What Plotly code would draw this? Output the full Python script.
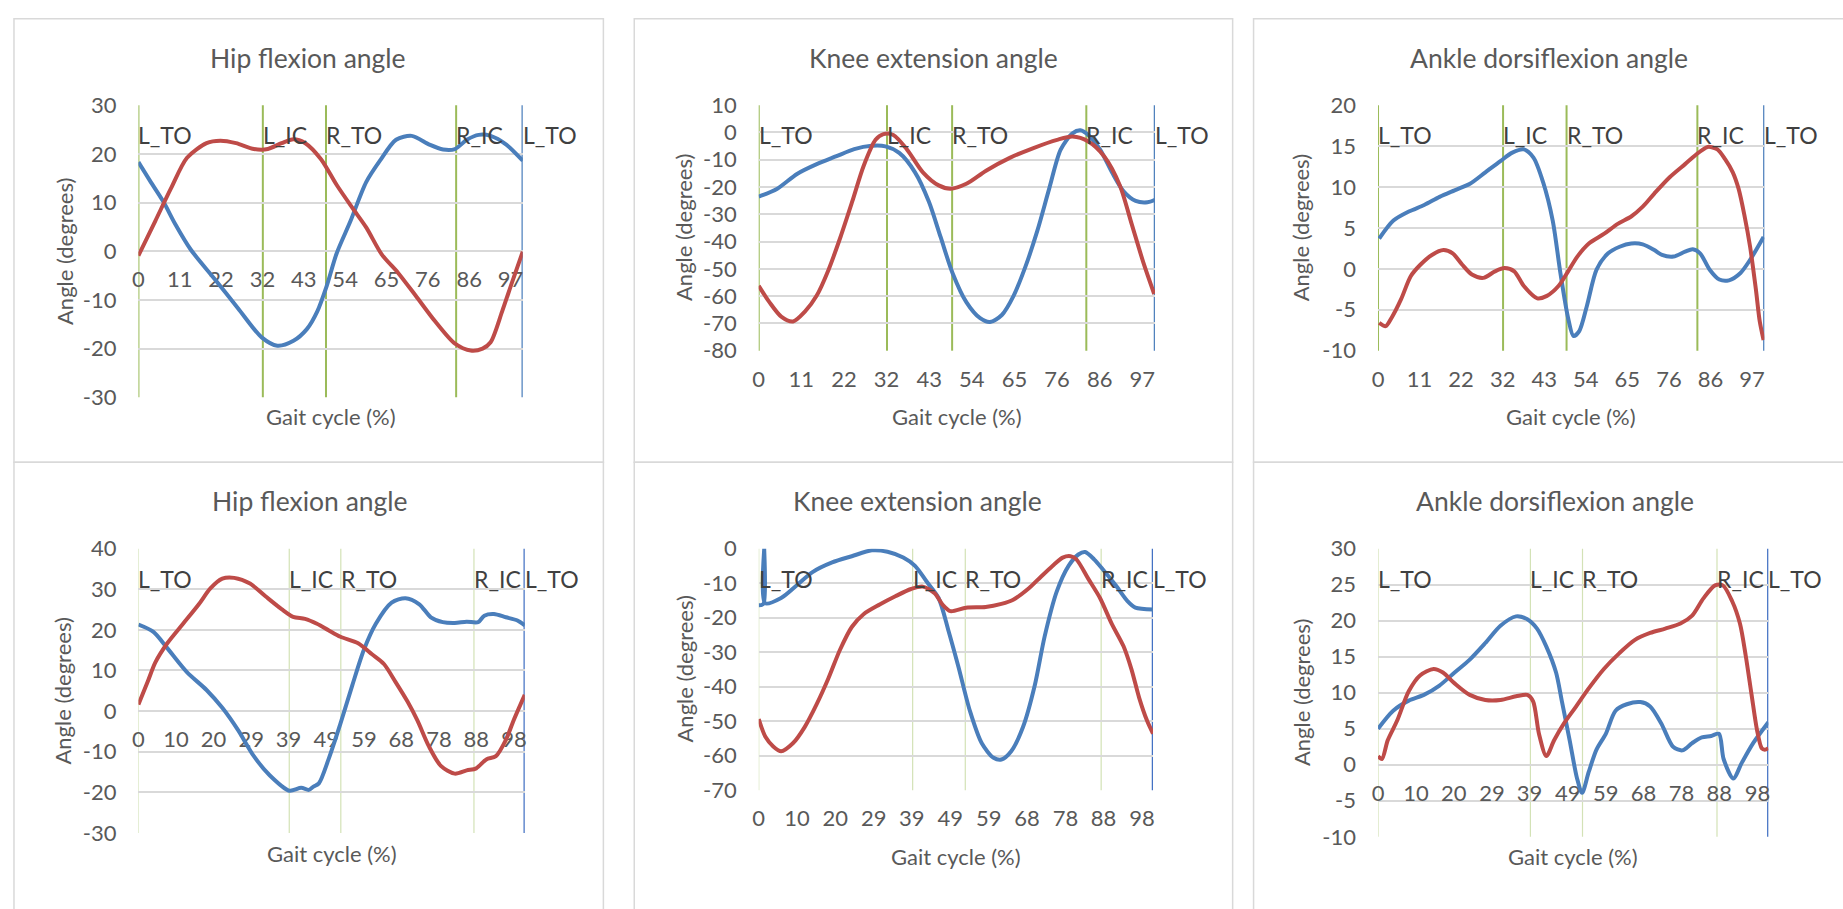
import plotly.graph_objects as go

W, H = 1843, 909

# ---------------- data ----------------
top_tick_pos = [0, 10.8, 21.6, 32.4, 43.2, 54.0, 64.8, 75.6, 86.4, 97.2]
top_tick_text = ["0", "11", "22", "32", "43", "54", "65", "76", "86", "97"]
bot_tick_pos = [0, 9.76, 19.5, 29.3, 39.0, 48.8, 58.6, 68.3, 78.1, 87.8, 97.6]
bot_tick_text = ["0", "10", "20", "29", "39", "49", "59", "68", "78", "88", "98"]

event_names = ["L_TO", "L_IC", "R_TO", "R_IC", "L_TO"]
top_events = [0, 32.5, 49.0, 83.0, 100.4]
bot_events = [0, 39.2, 52.6, 87.2, 100.4]

# hip flexion, first trial
hip_a_blue_x = [0, 3, 6.5, 9.6, 13.7, 19.9, 26.0, 32.2, 36.3, 40.5, 44.0, 46.7, 49.2, 51.8, 55.4, 59.5,
                63.1, 67.3, 71.4, 76.0, 79.6, 82.7, 85.8, 88.9, 92.0, 96.1, 100.4]
hip_a_blue_y = [18.3, 14.5, 10.2, 5.6, 0.3, -5.7, -11.7, -17.7, -19.4, -18.4, -16.0, -12.4, -7.1, -0.4, 6.2,
                14.2, 18.6, 22.9, 23.7, 21.9, 20.9, 21.0, 22.9, 23.9, 23.7, 21.9, 18.6]
hip_a_red_x = [0, 4.4, 8.5, 12.7, 17.8, 21.4, 25.5, 30.2, 33.8, 37.4, 40.5, 43.6, 47.7, 51.8, 55.9, 59.5,
               63.6, 67.8, 72.4, 77.5, 82.7, 86.8, 89.9, 92.0, 95.0, 97.6, 100.4]
hip_a_red_y = [-0.9, 6.2, 12.9, 19.2, 22.2, 22.7, 22.2, 21.0, 21.0, 22.2, 23.0, 22.2, 18.9, 13.6, 8.9, 4.9,
               -0.7, -4.4, -9.1, -14.4, -19.0, -20.4, -20.0, -18.7, -12.4, -6.4, -0.1]

# knee extension, first trial
knee_a_blue_x = [0, 4.7, 9.7, 14.7, 19.7, 24.2, 28.6, 32.1, 35.6, 39.6, 43.1, 46.1, 49.1, 52.6, 56.1, 58.6,
                 61.6, 64.6, 67.6, 70.6, 73.6, 76.5, 79.5, 81.5, 83.5, 86.5, 89.5, 92.5, 95.5, 98.5, 100.4]
knee_a_blue_y = [-23.5, -20.6, -15.2, -11.6, -8.7, -6.1, -4.9, -5.1, -7.5, -14.6, -25.3, -38.4, -51.5, -62.2,
                 -68.1, -69.5, -66.9, -59.8, -49.1, -36.0, -20.6, -6.3, -0.3, 0.8, -0.9, -6.3, -14.6, -21.7,
                 -25.1, -25.6, -24.7]
knee_a_red_x = [0, 2.7, 5.7, 8.7, 11.7, 14.7, 17.7, 20.7, 23.7, 26.6, 29.6, 31.6, 34.1, 37.6, 41.6, 45.6,
                48.6, 52.6, 57.6, 63.6, 69.6, 75.6, 79.5, 83.5, 87.5, 91.5, 94.5, 97.5, 100.2]
knee_a_red_y = [-56.2, -62.2, -67.5, -69.3, -65.7, -59.8, -50.3, -38.4, -25.3, -12.2, -2.7, -0.6, -0.9, -6.3,
                -14.6, -19.4, -20.6, -18.8, -14.0, -9.3, -5.7, -2.7, -1.5, -3.3, -8.7, -19.4, -33.6, -47.9,
                -59.2]

# ankle dorsiflexion, first trial
ankle_a_blue_x = [0.3, 4, 8, 12, 16, 19.9, 23.9, 27.9, 31.9, 34.9, 37.9, 40.4, 42.9, 45.4, 47.4, 49.4, 50.8,
                  52.3, 54.3, 56.8, 59.8, 62.8, 65.8, 68.8, 71.8, 73.8, 76.8, 79.8, 81.8, 83.7, 86.2, 88.7,
                  91.2, 94.2, 96.7, 100.2]
ankle_a_blue_y = [3.7, 5.9, 7.0, 7.8, 8.8, 9.6, 10.4, 11.8, 13.2, 14.2, 14.6, 13.6, 10.6, 5.9, -0.5, -6.0,
                  -8.2, -7.6, -4.5, -0.1, 1.9, 2.7, 3.1, 3.0, 2.3, 1.7, 1.5, 2.1, 2.4, 1.9, -0.1, -1.3, -1.4,
                  -0.5, 1.1, 3.9]
ankle_a_red_x = [0.3, 2, 3.5, 6, 8.5, 11, 14, 17, 19.4, 21.9, 24.4, 27.4, 30.4, 32.9, 35.4, 37.9, 41.4, 43.9,
                 46.9, 49.4, 51.8, 54.8, 58.8, 62.3, 65.8, 68.8, 71.8, 75.8, 79.8, 83.3, 85.7, 88.2, 90.2,
                 92.2, 93.7, 95.2, 96.7, 98.2, 99.2, 100.2]
ankle_a_red_y = [-6.6, -7.0, -6.0, -3.7, -0.9, 0.5, 1.7, 2.3, 1.9, 0.5, -0.7, -1.1, -0.3, 0.1, -0.3, -2.1,
                 -3.6, -3.3, -2.1, -0.3, 1.5, 3.1, 4.3, 5.5, 6.4, 7.6, 9.2, 11.2, 12.8, 14.2, 14.9, 14.6,
                 13.4, 11.8, 9.8, 6.6, 2.7, -2.5, -6.4, -8.7]

# hip flexion, second trial
hip_b_blue_x = [0, 3.9, 7.5, 12.6, 17.7, 21.8, 25.9, 30.0, 34.1, 39.2, 42.3, 44.3, 45.5, 46.9, 49.4, 52.5,
                55.6, 58.6, 61.7, 65.8, 69.4, 73.0, 76.0, 79.1, 82.2, 85.3, 88.3, 89.9, 92.4, 95.5, 98.5, 100.4]
hip_b_blue_y = [21.3, 19.5, 15.5, 9.6, 5.2, 0.8, -4.7, -11.1, -15.8, -19.6, -18.9, -19.4, -18.6, -17.8, -11.9,
                -3.1, 6.4, 15.1, 21.5, 26.7, 27.8, 26.3, 23.1, 21.9, 21.7, 22.0, 21.9, 23.5, 23.9, 23.1, 22.3,
                21.1]
hip_b_red_x = [0, 2.4, 4.4, 7.5, 11.6, 15.7, 18.7, 21.8, 24.9, 29.0, 33.1, 37.2, 40.2, 43.3, 46.4, 49.4, 52.5,
               57.1, 60.7, 63.8, 66.8, 69.9, 72.5, 75.5, 78.6, 82.2, 85.3, 87.8, 90.4, 92.9, 95.5, 97.5, 100.4]
hip_b_red_y = [1.6, 7.2, 12.0, 16.7, 21.5, 26.3, 30.2, 32.6, 32.8, 31.4, 28.2, 25.1, 23.2, 22.7, 21.5, 19.9,
               18.3, 16.7, 14.0, 11.6, 7.2, 2.4, -2.3, -8.7, -13.5, -15.4, -14.6, -14.1, -11.9, -11.1, -7.1,
               -2.3, 4.0]

# knee extension, second trial
knee_b_blue_x = [0, 1.2, 1.4, 1.6, 5.7, 9.7, 13.7, 18.7, 23.7, 28.8, 32.8, 36.8, 39.8, 42.8, 45.8, 48.3, 50.8,
                 53.8, 56.8, 59.8, 61.8, 64.3, 67.3, 70.3, 72.8, 75.9, 78.9, 81.4, 83.1, 85.4, 87.9, 90.9,
                 93.9, 95.9, 100.4]
knee_b_blue_y = [-16.4, -16.0, 0, -15.8, -14.3, -10.6, -6.8, -4.0, -2.2, -0.5, -0.9, -2.6, -5.0, -9.6, -14.3,
                 -23.7, -34.0, -47.1, -56.4, -60.6, -61.1, -58.7, -51.7, -39.6, -25.5, -12.4, -5.0, -1.7,
                 -1.0, -3.1, -6.4, -10.6, -15.2, -17.1, -17.6]
knee_b_red_x = [0, 1.7, 3.7, 5.7, 8.7, 11.7, 14.7, 17.7, 20.7, 23.7, 26.7, 30.8, 34.8, 38.8, 41.8, 44.8, 46.8,
                48.8, 52.8, 57.8, 61.8, 64.8, 68.8, 71.8, 74.8, 77.4, 79.4, 80.9, 83.9, 86.9, 89.9, 92.9,
                94.9, 96.9, 98.9, 100.4]
knee_b_red_y = [-49.4, -54.5, -57.3, -58.7, -56.4, -51.7, -45.2, -37.7, -29.3, -22.7, -19.0, -16.2, -13.8,
                -11.7, -11.0, -12.9, -16.2, -18.1, -17.1, -16.9, -16.0, -14.8, -11.5, -8.2, -5.0, -2.6,
                -2.2, -3.1, -8.7, -14.3, -21.8, -28.3, -34.9, -43.3, -49.9, -53.6]

# ankle dorsiflexion, second trial
ankle_b_blue_x = [0, 3.9, 7.9, 11.8, 15.8, 19.7, 23.6, 27.6, 31.5, 35.5, 38.4, 40.9, 43.3, 45.8, 47.3, 49.3,
                  51.2, 52.5, 54.2, 56.2, 58.6, 61.1, 64.0, 67.5, 70.0, 72.9, 75.9, 78.3, 80.8, 83.3, 85.7,
                  87.7, 88.9, 91.4, 93.6, 96.5, 100.4]
ankle_b_blue_y = [5.0, 7.5, 8.9, 9.7, 11.0, 12.8, 14.6, 16.9, 19.3, 20.6, 20.2, 18.9, 16.4, 12.8, 8.8, 3.4,
                  -1.9, -3.9, -1.0, 2.1, 4.3, 7.5, 8.4, 8.7, 8.1, 5.7, 2.5, 2.0, 3.0, 3.8, 4.0, 4.3, 0.8, -1.9,
                  0.3, 3.0, 5.9]
ankle_b_red_x = [0, 1, 2.5, 4.9, 7.9, 10.8, 14.3, 16.7, 19.7, 23.6, 27.6, 31.5, 35.5, 38.4, 39.9, 41.4, 43.3,
                 45.3, 47.8, 50.7, 54.2, 58.1, 62.1, 66.0, 70.0, 73.9, 77.8, 80.8, 83.7, 86.7, 88.7, 91.1,
                 93.1, 94.6, 96.1, 97.5, 98.7, 99.5, 100.4]
ankle_b_red_y = [1.2, 0.8, 3.4, 6.1, 10.2, 12.4, 13.3, 12.8, 11.3, 9.7, 9.0, 9.0, 9.5, 9.7, 8.8, 4.3, 1.2, 3.4,
                 5.7, 7.9, 10.6, 13.3, 15.5, 17.3, 18.3, 18.9, 19.6, 20.7, 23.1, 24.9, 24.9, 22.7, 19.6, 15.1,
                 9.7, 4.8, 2.3, 2.1, 2.3]

# ---------------- styling / layout ----------------
FONT = "Lato, 'Open Sans', sans-serif"
TXT = "#595959"
BLUE = "#4a7ebb"
RED = "#be4b48"
GRID = "#d9d9d9"
TICK_SIZE = 22
AXTITLE_SIZE = 22
TITLE_SIZE = 26.5
EVENT_SIZE = 23

panels = [
    dict(title="Hip flexion angle", blue=(hip_a_blue_x, hip_a_blue_y), red=(hip_a_red_x, hip_a_red_y),
         yr=(-30, 30), dy=10, cross=0, box=(133, 94, 519, 395), tpos=(303, 45), ytx=58, xty=415,
         ticks=(top_tick_pos, top_tick_text), events=top_events, green="#9bbb59", gw=2, end="#4f81bd",
         frame=(8, 5, 600, 462)),
    dict(title="Knee extension angle", blue=(knee_a_blue_x, knee_a_blue_y), red=(knee_a_red_x, knee_a_red_y),
         yr=(-80, 10), dy=10, cross=-80, box=(756, 94, 1154, 347), tpos=(932, 45), ytx=681, xty=415,
         ticks=(top_tick_pos, top_tick_text), events=top_events, green="#9bbb59", gw=2, end="#4f81bd",
         frame=(631, 5, 1232, 462)),
    dict(title="Ankle dorsiflexion angle", blue=(ankle_a_blue_x, ankle_a_blue_y),
         red=(ankle_a_red_x, ankle_a_red_y),
         yr=(-10, 20), dy=5, cross=-10, box=(1378, 94, 1766, 347), tpos=(1550, 45), ytx=1301, xty=415,
         ticks=(top_tick_pos, top_tick_text), events=top_events, green="#9bbb59", gw=2, end="#4f81bd",
         frame=(1253, 5, 1860, 462)),
    dict(title="Hip flexion angle", blue=(hip_b_blue_x, hip_b_blue_y), red=(hip_b_red_x, hip_b_red_y),
         yr=(-30, 40), dy=10, cross=0, box=(133, 551, 521, 844), tpos=(305, 502), ytx=57, xty=865,
         ticks=(bot_tick_pos, bot_tick_text), events=bot_events, green="#d3e2b6", gw=1.2, end="#4472c4",
         frame=(8, 462, 600, 930)),
    dict(title="Knee extension angle", blue=(knee_b_blue_x, knee_b_blue_y), red=(knee_b_red_x, knee_b_red_y),
         yr=(-70, 0), dy=10, cross=-70, box=(756, 551, 1152, 800), tpos=(915, 502), ytx=681, xty=868,
         ticks=(bot_tick_pos, bot_tick_text), events=bot_events, green="#d3e2b6", gw=1.2, end="#4472c4",
         frame=(631, 462, 1232, 930)),
    dict(title="Ankle dorsiflexion angle", blue=(ankle_b_blue_x, ankle_b_blue_y),
         red=(ankle_b_red_x, ankle_b_red_y),
         yr=(-10, 30), dy=5, cross=0, box=(1378, 551, 1770, 848), tpos=(1556, 502), ytx=1301, xty=868,
         ticks=(bot_tick_pos, bot_tick_text), events=bot_events, green="#d3e2b6", gw=1.2, end="#4472c4",
         frame=(1253, 462, 1860, 930)),
]


def fx(px):
    return px / W


def fy(py):
    return 1 - py / H


fig = go.Figure()
layout = dict(width=W, height=H, margin=dict(l=0, r=0, t=0, b=0), showlegend=False,
              paper_bgcolor="white", plot_bgcolor="white", font=dict(family=FONT, color=TXT))
shapes, annotations = [], []

for i, p in enumerate(panels, start=1):
    sfx = "" if i == 1 else str(i)
    xa, ya = "x" + sfx, "y" + sfx
    x0, y0, x1, y1 = p["box"]
    ymin, ymax = p["yr"]
    # pixel row of the line where category labels sit
    cross_px = y0 + (ymax - p["cross"]) / (ymax - ymin) * (y1 - y0)
    yvals = list(range(ymin, ymax + 1, p["dy"]))

    for (xs, ys), col in ((p["blue"], BLUE), (p["red"], RED)):
        fig.add_trace(go.Scatter(x=xs, y=ys, mode="lines", xaxis=xa, yaxis=ya,
                                 line=dict(color=col, width=4, shape="spline", smoothing=0.8),
                                 hoverinfo="skip"))

    layout["xaxis" + sfx] = dict(domain=[fx(x0), fx(x1)], range=[0, 100.4], anchor="free",
                                 position=fy(cross_px), tickmode="array",
                                 tickvals=p["ticks"][0], ticktext=p["ticks"][1],
                                 showgrid=False, zeroline=False, showline=False, ticks="",
                                 tickfont=dict(size=TICK_SIZE, color=TXT, family=FONT),
                                 ticklabelstandoff=13, layer="below traces")
    layout["yaxis" + sfx] = dict(domain=[fy(y1), fy(y0)], range=[ymin, ymax], tickmode="array",
                                 tickvals=yvals, ticktext=[str(v) for v in yvals],
                                 anchor=xa, showgrid=True, gridcolor=GRID, gridwidth=1.5,
                                 zeroline=False, showline=False, ticks="",
                                 tickfont=dict(size=TICK_SIZE, color=TXT, family=FONT),
                                 ticklabelstandoff=21)

    # gait event markers
    n_ev = len(p["events"])
    for k, (ev, name) in enumerate(zip(p["events"], event_names)):
        last = k == n_ev - 1
        shapes.append(dict(type="line", xref=xa, yref="paper", x0=ev, x1=ev, y0=fy(y1), y1=fy(y0),
                           line=dict(color=p["end"] if last else p["green"],
                                     width=2.5 if last else p["gw"]),
                           layer="below"))
        annotations.append(dict(text=name, xref=xa, yref="paper", x=ev, xshift=-2,
                                y=fy(y0 + 31), xanchor="left", yanchor="middle",
                                showarrow=False, font=dict(size=EVENT_SIZE, color="#404040", family=FONT)))

    # chart frame
    fx0, fy0, fx1, fy1 = p["frame"]
    shapes.append(dict(type="rect", xref="paper", yref="paper", x0=fx(fx0), x1=fx(fx1),
                       y0=fy(fy1), y1=fy(fy0), line=dict(color=GRID, width=1.5),
                       fillcolor="rgba(0,0,0,0)", layer="below"))

    # titles
    annotations.append(dict(text=p["title"], xref="paper", yref="paper", x=fx(p["tpos"][0]),
                            y=fy(p["tpos"][1]), xanchor="center", yanchor="middle", showarrow=False,
                            font=dict(size=TITLE_SIZE, color=TXT, family=FONT)))
    annotations.append(dict(text="Gait cycle (%)", xref="paper", yref="paper", x=fx((x0 + x1) / 2),
                            y=fy(p["xty"]), xanchor="center", yanchor="middle", showarrow=False,
                            font=dict(size=AXTITLE_SIZE, color=TXT, family=FONT)))
    annotations.append(dict(text="Angle (degrees)", xref="paper", yref="paper", x=fx(p["ytx"]),
                            y=fy((y0 + y1) / 2), xanchor="center", yanchor="middle", textangle=-90,
                            showarrow=False, font=dict(size=AXTITLE_SIZE, color=TXT, family=FONT)))

layout["shapes"] = shapes
layout["annotations"] = annotations
fig.update_layout(**layout)
fig.write_html("out.html")
